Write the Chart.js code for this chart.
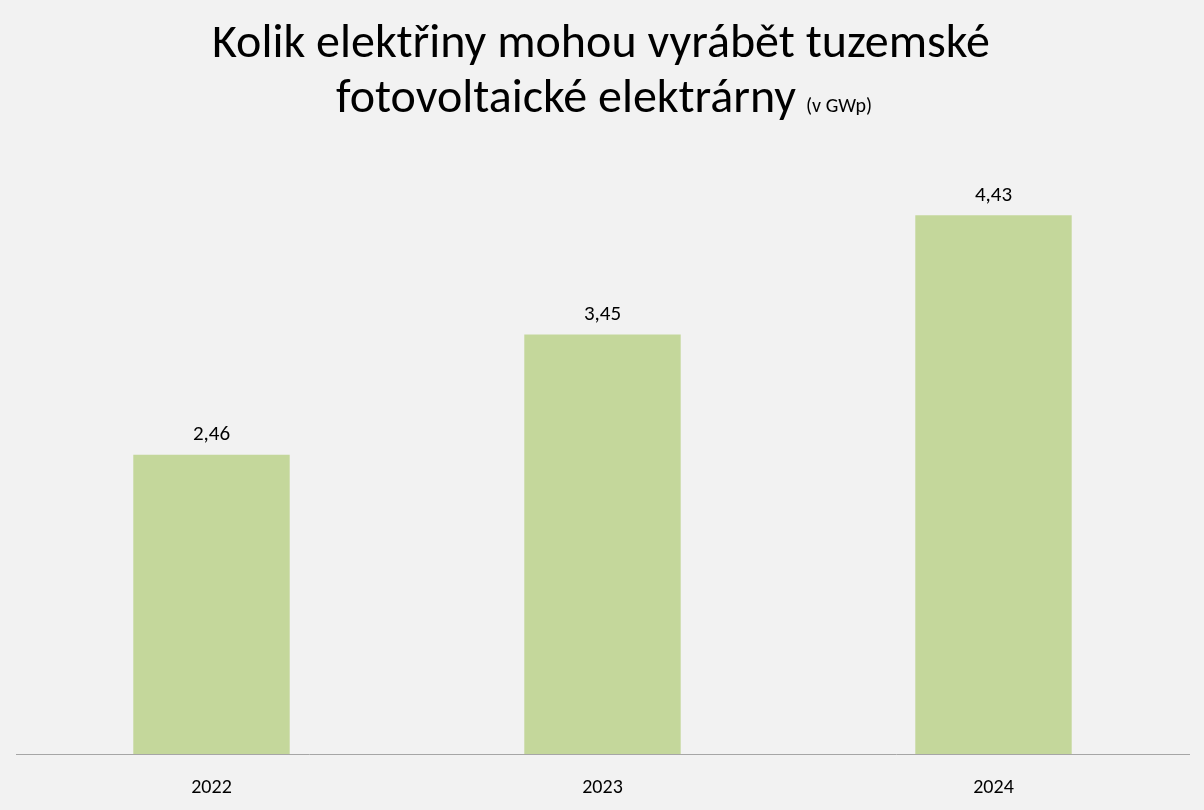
<!DOCTYPE html>
<html><head><meta charset="utf-8">
<script src="https://cdn.jsdelivr.net/npm/chart.js@4"></script>
<style>html,body{margin:0;padding:0;background:#f2f2f2;}#wrap{width:1204px;height:810px;}</style>
</head><body><div id="wrap"><canvas id="c" width="1204" height="810"></canvas></div>
<script>
const categories = ["2022","2023","2024"];
const values = [2.46, 3.45, 4.43];
const valueLabels = ["2,46","3,45","4,43"];
const titleLine1 = "Kolik elektřiny mohou vyrábět tuzemské";
const titleLine2 = "fotovoltaické elektrárny";
const titleUnit = "(v GWp)";
const FONT = "Carlito, Lato, 'Open Sans', 'Liberation Sans', sans-serif";

const deco = {
  id:'deco',
  beforeDraw(chart){
    const c=chart.ctx; c.save(); c.fillStyle='#f2f2f2'; c.fillRect(0,0,chart.width,chart.height); c.restore();
  },
  afterDraw(chart){
    const c=chart.ctx; c.save();
    c.fillStyle='#000'; c.textBaseline='middle'; c.textAlign='center';
    c.font='48px '+FONT;
    c.fillText(titleLine1,601,45);
    c.font='48px '+FONT; const w1=c.measureText(titleLine2).width;
    c.font='20px '+FONT; const w2=c.measureText(titleUnit).width;
    const total=w1+10+w2; let x=604-total/2;
    c.textAlign='left'; c.font='48px '+FONT; c.fillText(titleLine2,x,100);
    c.font='20px '+FONT; c.fillText(titleUnit,x+w1+10,107);
    const meta=chart.getDatasetMeta(0);
    c.textAlign='center'; c.font='21px '+FONT;
    meta.data.forEach((b,i)=>{c.fillText(valueLabels[i],b.x,b.y-20);});
    c.restore();
  }
};

new Chart(document.getElementById('c'),{
  type:'bar',
  data:{labels:categories,datasets:[{data:values,backgroundColor:'#c4d79b',categoryPercentage:1,barPercentage:0.4}]},
  options:{
    responsive:false,animation:false,
    layout:{padding:{left:16,right:15,top:146,bottom:0}},
    plugins:{legend:{display:false},tooltip:{enabled:false}},
    scales:{
      x:{grid:{display:false},border:{display:true,color:'#a6a6a6',width:1},
         ticks:{color:'#000',font:{family:FONT,size:20},padding:14},
         afterFit(s){s.height=56;}},
      y:{display:false,min:0,max:5}
    }
  },
  plugins:[deco]
});
</script></body></html>
